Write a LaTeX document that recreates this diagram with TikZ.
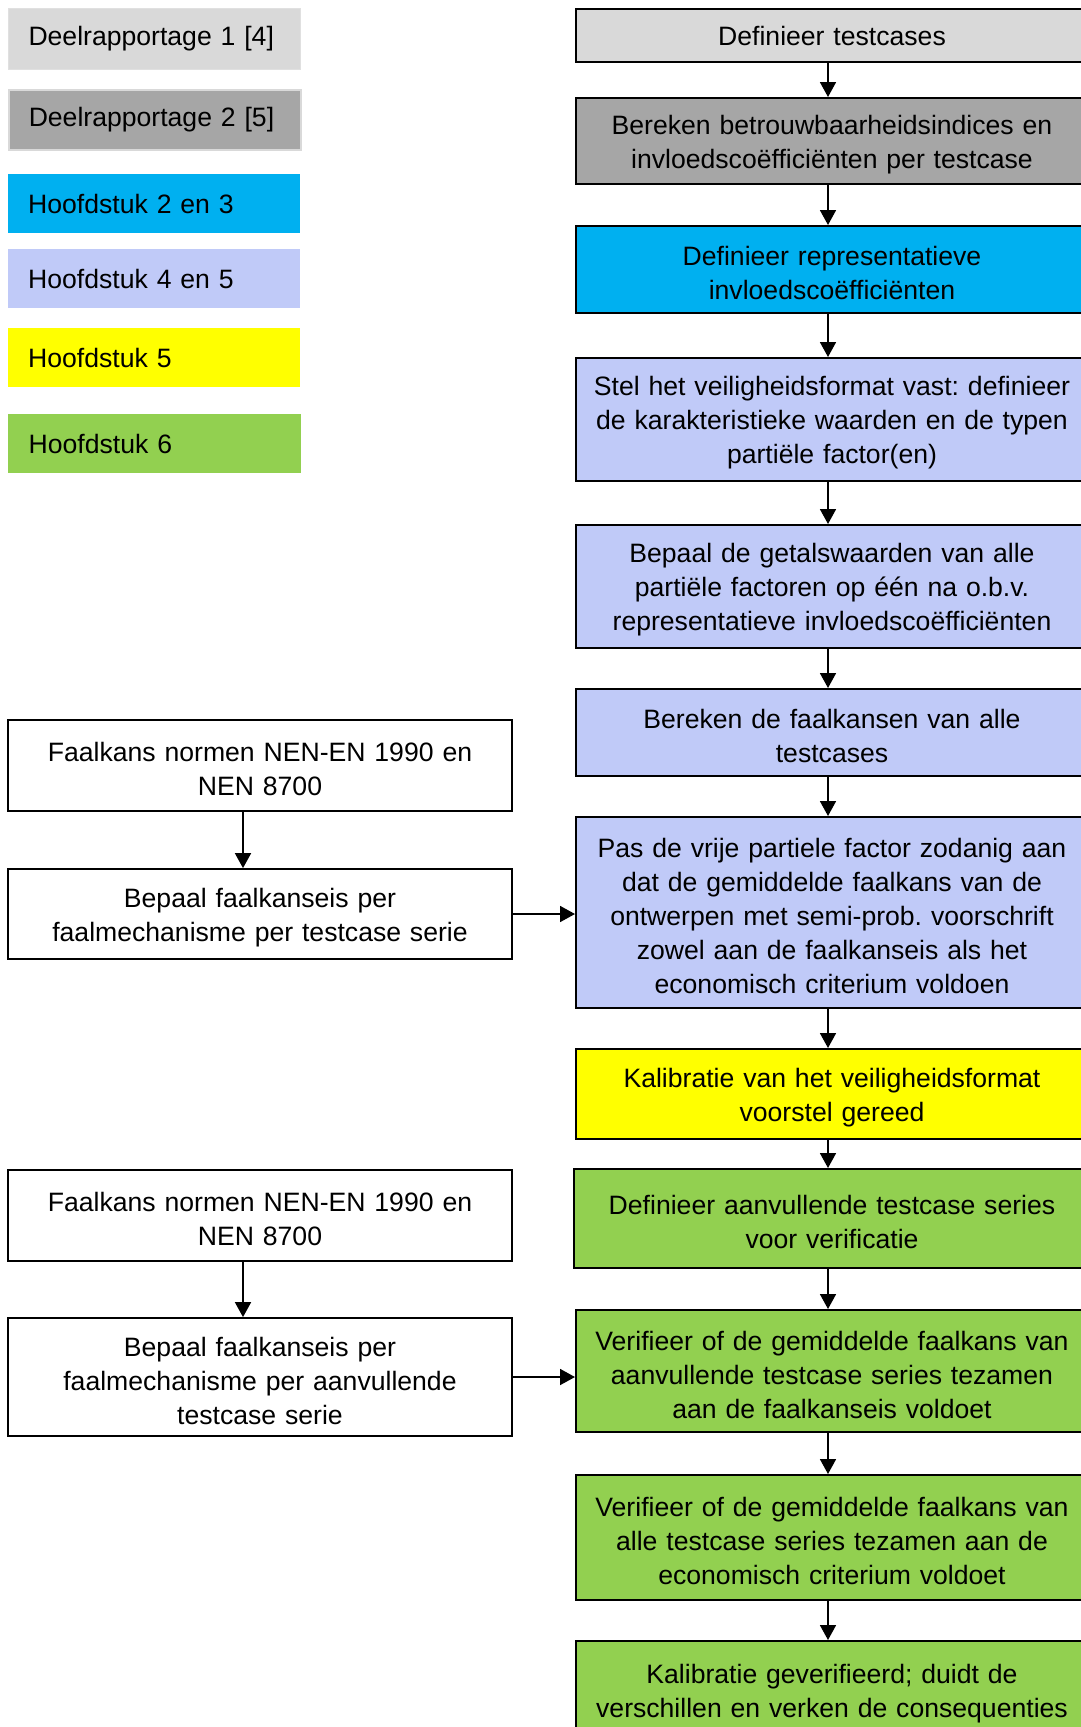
\documentclass[tikz,border=0pt]{standalone}
\usepackage{fontspec}
\setmainfont{Liberation Sans}
\usetikzlibrary{arrows.meta}
\definecolor{grijs1}{RGB}{217,217,217}
\definecolor{grijs2}{RGB}{166,166,166}
\definecolor{blauw}{RGB}{0,176,240}
\definecolor{lila}{RGB}{192,202,248}
\definecolor{geel}{RGB}{255,255,0}
\definecolor{groen}{RGB}{146,208,80}
\newcommand\flowfont{\fontsize{26.6pt}{34pt}\selectfont\frenchspacing}
\newcommand\naschuif{\endgraf\vspace*{-7pt}}
\begin{document}
\begin{tikzpicture}[x=1pt,y=-1pt,
box/.style={draw=black,line width=2pt,align=center,inner sep=0pt,font=\flowfont,text=black,execute at end node=\naschuif},
stap/.style={box,minimum width=512pt,text width=505pt},
bron/.style={box,line width=1.8pt,fill=white,minimum width=504pt,text width=495pt},
legenda/.style={anchor=west,align=left,inner xsep=20pt,inner ysep=0pt,text width=252pt,minimum height=59pt,font=\flowfont,text=black},
pijl/.style={draw=black,line width=1.8pt,-{Triangle[width=16pt,length=15pt]}}
]
\useasboundingbox[fill=white] (0,0) rectangle (1080,1727);
\node[legenda,fill=grijs1,draw=black!12,line width=1pt,minimum height=61pt] (l1) at (8,38.5) {Deelrapportage 1 [4]};
\node[legenda,fill=grijs2,draw=black!15,line width=1.5pt,minimum height=60pt] (l2) at (8,120) {Deelrapportage 2 [5]};
\node[legenda,fill=blauw] (l3) at (8,203.5) {Hoofdstuk 2 en 3};
\node[legenda,fill=lila] (l4) at (8,278.5) {Hoofdstuk 4 en 5};
\node[legenda,fill=geel] (l5) at (8,357.5) {Hoofdstuk 5};
\node[legenda,fill=groen,minimum width=293pt] (l6) at (8,443.5) {Hoofdstuk 6};
\node[stap,fill=grijs1,minimum height=53pt] (t1) at (832,35.5) {Definieer testcases};
\node[stap,fill=grijs2,minimum height=86pt] (t2) at (832,141) {Bereken betrouwbaarheidsindices en\\invloedscoëfficiënten per testcase};
\node[stap,fill=blauw,minimum height=87pt] (t3) at (832,269.5) {Definieer representatieve\\invloedscoëfficiënten};
\node[stap,fill=lila,minimum height=123pt] (t4) at (832,419.5) {Stel het veiligheidsformat vast: definieer\\de karakteristieke waarden en de typen\\partiële factor(en)};
\node[stap,fill=lila,minimum height=123pt] (t5) at (832,586.5) {Bepaal de getalswaarden van alle\\partiële factoren op één na o.b.v.\\representatieve invloedscoëfficiënten};
\node[stap,fill=lila,minimum height=87pt] (t6) at (832,732.5) {Bereken de faalkansen van alle\\testcases};
\node[stap,fill=lila,minimum height=191pt] (t7) at (832,912.5) {Pas de vrije partiele factor zodanig aan\\dat de gemiddelde faalkans van de\\ontwerpen met semi-prob. voorschrift\\zowel aan de faalkanseis als het\\economisch criterium voldoen};
\node[stap,fill=geel,minimum height=90pt] (t8) at (832,1094) {Kalibratie van het veiligheidsformat\\voorstel gereed};
\node[stap,fill=groen,minimum height=99pt,minimum width=516pt] (t9) at (832,1218.5) {Definieer aanvullende testcase series\\voor verificatie};
\node[stap,fill=groen,minimum height=122pt] (t10) at (832,1371) {Verifieer of de gemiddelde faalkans van\\aanvullende testcase series tezamen\\aan de faalkanseis voldoet};
\node[stap,fill=groen,minimum height=125pt] (t11) at (832,1537.5) {Verifieer of de gemiddelde faalkans van\\alle testcase series tezamen aan de\\economisch criterium voldoet};
\node[stap,fill=groen,minimum height=98pt] (t12) at (832,1690) {Kalibratie geverifieerd; duidt de\\verschillen en verken de consequenties};
\node[bron,minimum height=91pt] (n1) at (260,765.5) {Faalkans normen NEN-EN 1990 en\\NEN 8700};
\node[bron,minimum height=90pt] (b1) at (260,914) {Bepaal faalkanseis per\\faalmechanisme per testcase serie};
\node[bron,minimum height=91pt] (n2) at (260,1215.5) {Faalkans normen NEN-EN 1990 en\\NEN 8700};
\node[bron,minimum height=118pt] (b2) at (260,1377) {Bepaal faalkanseis per\\faalmechanisme per aanvullende\\testcase serie};
\foreach \a/\b in {t1/t2,t2/t3,t3/t4,t4/t5,t5/t6,t6/t7,t7/t8,t8/t9,t9/t10,t10/t11,t11/t12}
  \draw[pijl] ([xshift=-4pt]\a.south) -- ([xshift=-4pt]\b.north);
\draw[pijl] ([xshift=-17pt]n1.south) -- ([xshift=-17pt]b1.north);
\draw[pijl] ([xshift=-17pt]n2.south) -- ([xshift=-17pt]b2.north);
\draw[pijl] (b1.east) -- (b1.east -| t7.west);
\draw[pijl] (b2.east) -- (b2.east -| t10.west);
\end{tikzpicture}
\end{document}
